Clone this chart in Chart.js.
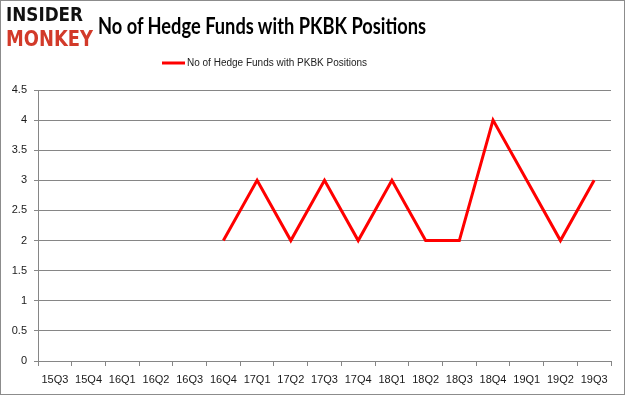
<!DOCTYPE html>
<html>
<head>
<meta charset="utf-8">
<script src="https://cdn.jsdelivr.net/npm/chart.js@4/dist/chart.umd.min.js"></script>
<style>
  html, body { margin: 0; padding: 0; background: #fff; }
  #wrap { position: relative; width: 625px; height: 395px; box-sizing: border-box; border: 1px solid #8c8c8c; }
  #chart { position: absolute; left: 0; top: 0; }
  .logo { position: absolute; left: 5px; font-family: "DejaVu Sans", sans-serif; font-weight: bold; transform-origin: 0 0; white-space: nowrap; line-height: 1; }
  #logo1 { top: 3px; color: #111; font-size: 20px; }
  #logo2 { top: 27px; color: #d23a2a; font-size: 22px; }
  #title { position: absolute; left: 97px; top: 12px; font-family: Lato, "Open Sans", sans-serif; font-weight: bold; font-size: 23px; color: #000; white-space: nowrap; transform-origin: 0 0; line-height: 1.1; }
</style>
</head>
<body>
<div id="wrap">
  <canvas id="chart" width="625" height="395"></canvas>
  <div class="logo" id="logo1">INSIDER</div>
  <div class="logo" id="logo2">MONKEY</div>
  <div id="title">No of Hedge Funds with PKBK Positions</div>
</div>
<script>
// datos de la grafica
const trimestres = ['15Q3', '15Q4', '16Q1', '16Q2', '16Q3', '16Q4', '17Q1', '17Q2', '17Q3',
    '17Q4', '18Q1', '18Q2', '18Q3', '18Q4', '19Q1', '19Q2', '19Q3'];
const fondos = [null, null, null, null, null, 2, 3, 2, 3, 2, 3, 2, 2, 4, 3, 2, 3];
const serieNombre = 'No of Hedge Funds with PKBK Positions';
const yMin = 0, yMax = 4.5, yPaso = 0.5;

// ajustar ancho de textos fijos
const fitWidth = (id, w) => {
    const el = document.getElementById(id);
    const actual = el.getBoundingClientRect().width;
    el.style.transform = `scaleX(${w / actual})`;
};
fitWidth('logo1', 77);
fitWidth('logo2', 87);
fitWidth('title', 328);

const gris = '#868686';
const rojo = '#ff0000';

// leyenda dibujada a mano (Excel la pone desplazada a la izquierda)
const leyenda = {
    id: 'leyenda',
    afterDraw(chart) {
        const c = chart.ctx;
        c.save();
        c.strokeStyle = rojo;
        c.lineWidth = 3;
        c.beginPath();
        c.moveTo(161, 62);
        c.lineTo(184, 62);
        c.stroke();
        c.fillStyle = '#222';
        c.font = '10px "Liberation Sans"';
        c.textBaseline = 'middle';
        c.fillText(serieNombre, 186, 62);
        c.restore();
    }
};

const ctx = document.getElementById('chart').getContext('2d');

new Chart(ctx, {
    type: 'line',
    data: {
        labels: trimestres,
        datasets: [{
            label: serieNombre,
            data: fondos,
            borderColor: rojo,
            backgroundColor: rojo,
            borderWidth: 3,
            pointRadius: 0,
            tension: 0,
            fill: false,
            spanGaps: false
        }]
    },
    options: {
        responsive: false,
        animation: false,
        layout: { padding: { top: 89, right: 15, left: 0, bottom: 0 } },
        plugins: {
            tooltip: { enabled: false },
            legend: { display: false }
        },
        scales: {
            x: {
                offset: true,
                grid: {
                    offset: true,
                    drawOnChartArea: false,
                    drawTicks: true,
                    tickLength: 5,
                    color: gris
                },
                border: { color: gris },
                ticks: {
                    color: '#1a1a1a',
                    padding: 7,
                    maxRotation: 0,
                    autoSkip: false,
                    font: { family: 'Liberation Sans', size: 11 }
                },
                afterFit: (axis) => { axis.height = 35; }
            },
            y: {
                min: yMin,
                max: yMax,
                grid: { color: gris, tickLength: 4 },
                border: { color: gris },
                ticks: {
                    stepSize: yPaso,
                    color: '#1a1a1a',
                    padding: 7,
                    font: { family: 'Liberation Sans', size: 11 },
                    callback: (v) => String(v)
                },
                afterFit: (axis) => { axis.width = 37; }
            }
        }
    },
    plugins: [leyenda]
});
</script>
</body>
</html>
